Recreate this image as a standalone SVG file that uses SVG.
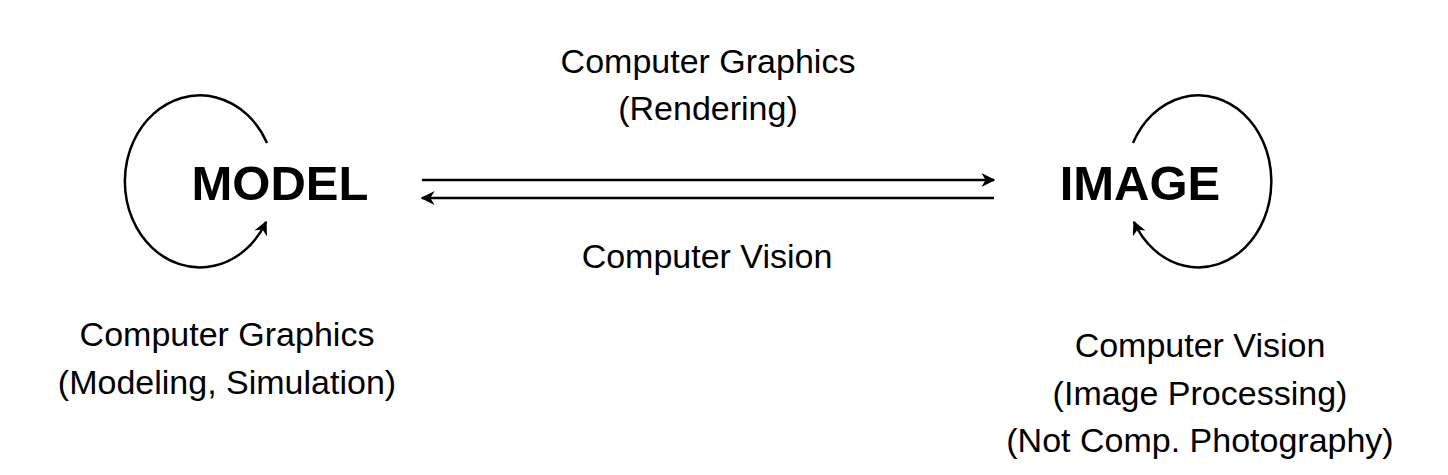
<svg xmlns="http://www.w3.org/2000/svg" width="1448" height="475" viewBox="0 0 1448 475">
<style>
text{font-family:"Liberation Sans",Arial,sans-serif;fill:#000;text-anchor:middle}
.t{font-size:34px}
.n{font-size:49px;font-weight:bold}
.l{fill:none;stroke:#000;stroke-width:2.5}
</style>
<defs>
<marker id="a" viewBox="0 0 10 10" refX="9" refY="5" markerWidth="7" markerHeight="7" markerUnits="userSpaceOnUse" orient="auto"><path d="M0,0 L10,5 L0,10 L3,5 Z" fill="#000"/></marker>
<marker id="b" viewBox="0 0 10 10" refX="9" refY="5" markerWidth="14" markerHeight="14" markerUnits="userSpaceOnUse" orient="auto"><path d="M0,0 L10,5 L0,10 L3,5 Z" fill="#000"/></marker>
</defs>
<rect width="1448" height="475" fill="#fff"/>
<g id="model"><text class="n" x="280" y="200">MODEL</text></g>
<g id="image"><text class="n" x="1140" y="200">IMAGE</text></g>
<g id="connectors">
<path class="l" d="M267,143 A75,86 0 1 0 266,222" marker-end="url(#b)"/>
<path class="l" d="M1133,143 A73,86 0 1 1 1134,222" marker-end="url(#b)"/>
<line class="l" x1="422" y1="180" x2="994" y2="180" marker-end="url(#b)"/>
<line class="l" x1="994" y1="198" x2="422" y2="198" marker-end="url(#b)"/>
</g>
<g id="labels">
<text class="t" x="708" y="73">Computer Graphics</text>
<text class="t" x="708" y="120">(Rendering)</text>
<text class="t" x="707" y="268">Computer Vision</text>
<text class="t" x="227" y="346">Computer Graphics</text>
<text class="t" x="227" y="394">(Modeling, Simulation)</text>
<text class="t" x="1200" y="357">Computer Vision</text>
<text class="t" x="1200" y="405">(Image Processing)</text>
<text class="t" x="1200" y="452">(Not Comp. Photography)</text>
</g>
</svg>
